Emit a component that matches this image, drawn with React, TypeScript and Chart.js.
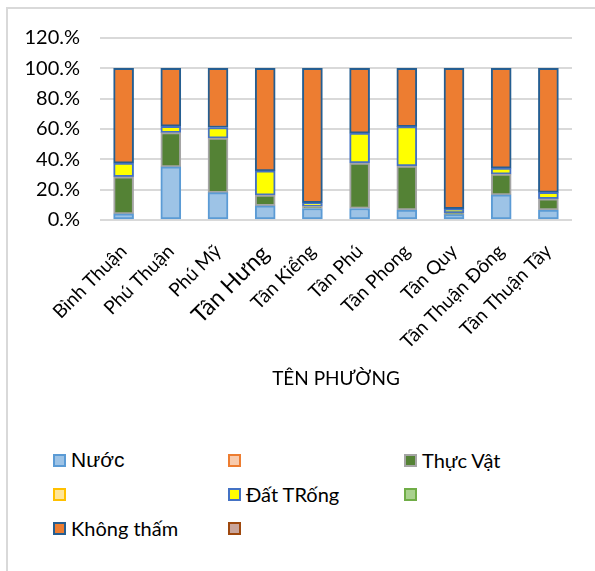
import React, { useEffect, useRef } from "react";
import { Chart, registerables } from "chart.js";

Chart.register(...registerables);

const categories = [
  "Bình Thuận",
  "Phú Thuận",
  "Phú Mỹ",
  "Tân Hưng",
  "Tân Kiểng",
  "Tân Phú",
  "Tân Phong",
  "Tân Quy",
  "Tân Thuận Đông",
  "Tân Thuận Tây",
];

const nuoc = [4, 35, 18, 9.4, 7.6, 7.6, 6.6, 3.5, 16.6, 6.6];
const blankA = [0, 0, 0, 0, 0, 0, 0, 0, 0, 0];
const thucVat = [24.5, 22.6, 36, 7, 1.6, 30, 29, 1.1, 13.6, 7.4];
const blankB = [0, 0, 0, 0, 0, 0, 0, 0, 0, 0];
const datTrong = [9, 4.2, 7, 16, 2.2, 19.7, 26, 2.8, 4, 4.2];
const blankC = [0, 0, 0, 0, 0, 0, 0, 0, 0, 0];
const khongTham = [62.5, 38.2, 39, 67.6, 88.6, 42.7, 38.4, 92.6, 65.8, 81.8];
const blankD = [0, 0, 0, 0, 0, 0, 0, 0, 0, 0];

const yTicks = [0, 20, 40, 60, 80, 100, 120];
const xTitle = "TÊN PHƯỜNG";

const seriesDefs = [
  { label: "Nước", data: nuoc, fill: "#9DC3E6", border: "#5B9BD5" },
  { label: "", data: blankA, fill: "#F8CBAD", border: "#ED7D31" },
  { label: "Thực Vật", data: thucVat, fill: "#548235", border: "#A5A5A5" },
  { label: "", data: blankB, fill: "#FFE699", border: "#FFC000" },
  { label: "Đất TRống", data: datTrong, fill: "#FFFF00", border: "#4472C4" },
  { label: "", data: blankC, fill: "#A9D18E", border: "#70AD47" },
  { label: "Không thấm", data: khongTham, fill: "#ED7D31", border: "#255E91" },
  { label: "", data: blankD, fill: "#C9A59B", border: "#9E480E" },
];

export default function App() {
  const ref = useRef<HTMLCanvasElement | null>(null);

  useEffect(() => {
    if (!ref.current) return;
    const chart = new Chart(ref.current, {
      type: "bar",
      data: {
        labels: categories,
        datasets: seriesDefs.map((s) => ({
          label: s.label,
          data: s.data,
          backgroundColor: s.fill,
          borderColor: s.border,
          borderWidth: 2,
          borderSkipped: false,
          barThickness: 20,
        })),
      },
      options: {
        responsive: false,
        animation: false,
        devicePixelRatio: 1,
        layout: { padding: { top: 38, right: 23, bottom: 6, left: 0 } },
        plugins: {
          legend: { display: false },
          tooltip: { enabled: false },
        },
        scales: {
          x: {
            stacked: true,
            grid: { display: false },
            border: { display: false },
            ticks: {
              minRotation: 45,
              maxRotation: 45,
              padding: 12,
              color: "#000",
              autoSkip: false,
              font: (ctx: any) => ({
                family: "Lato",
                size: ctx.index === 3 ? 23 : 19,
              }),
            },
            title: {
              display: true,
              text: xTitle,
              color: "#000",
              font: { family: "Lato", size: 19 },
            },
            afterFit: (scale: any) => {
              scale.height = 174;
            },
          },
          y: {
            stacked: true,
            min: 0,
            max: 120,
            afterBuildTicks: (scale: any) => {
              scale.ticks = yTicks.map((v) => ({ value: v }));
            },
            grid: { color: "#D9D9D9", lineWidth: 2, drawTicks: false },
            border: { display: false },
            ticks: {
              padding: 20,
              color: "#000",
              font: { family: "Lato", size: 20 },
              callback: (v: any) => v + ".%",
            },
            afterFit: (scale: any) => {
              scale.width = 100;
            },
          },
        },
      },
    });
    return () => chart.destroy();
  }, []);

  const colLeft = [53, 228, 404];
  const rowTop = [453, 487, 521];

  return (
    <div
      style={{
        position: "fixed",
        left: 0,
        top: 0,
        width: 595,
        height: 571,
        background: "#fff",
        overflow: "hidden",
      }}
    >
      <div
        style={{
          position: "absolute",
          left: 6,
          top: 7,
          right: 0,
          bottom: 0,
          borderLeft: "2px solid #D9D9D9",
          borderTop: "2px solid #D9D9D9",
        }}
      />
      <canvas
        ref={ref}
        width={595}
        height={400}
        style={{ position: "absolute", left: 0, top: 0, width: 595, height: 400 }}
      />
      {seriesDefs.map((s, i) => {
        const r = Math.floor(i / 3);
        const c = i % 3;
        return (
          <div
            key={i}
            style={{
              position: "absolute",
              left: colLeft[c],
              top: rowTop[r],
              height: 14,
              display: "flex",
              alignItems: "center",
              whiteSpace: "nowrap",
            }}
          >
            <div
              style={{
                width: 13,
                height: 13,
                boxSizing: "border-box",
                background: s.fill,
                border: `2px solid ${s.border}`,
                flex: "none",
              }}
            />
            <span
              style={{
                marginLeft: 5,
                fontFamily: i === 0 ? "Liberation Sans" : "Lato",
                fontSize: i === 0 ? 21 : 20,
                color: "#000",
                lineHeight: "14px",
              }}
            >
              {s.label}
            </span>
          </div>
        );
      })}
    </div>
  );
}
